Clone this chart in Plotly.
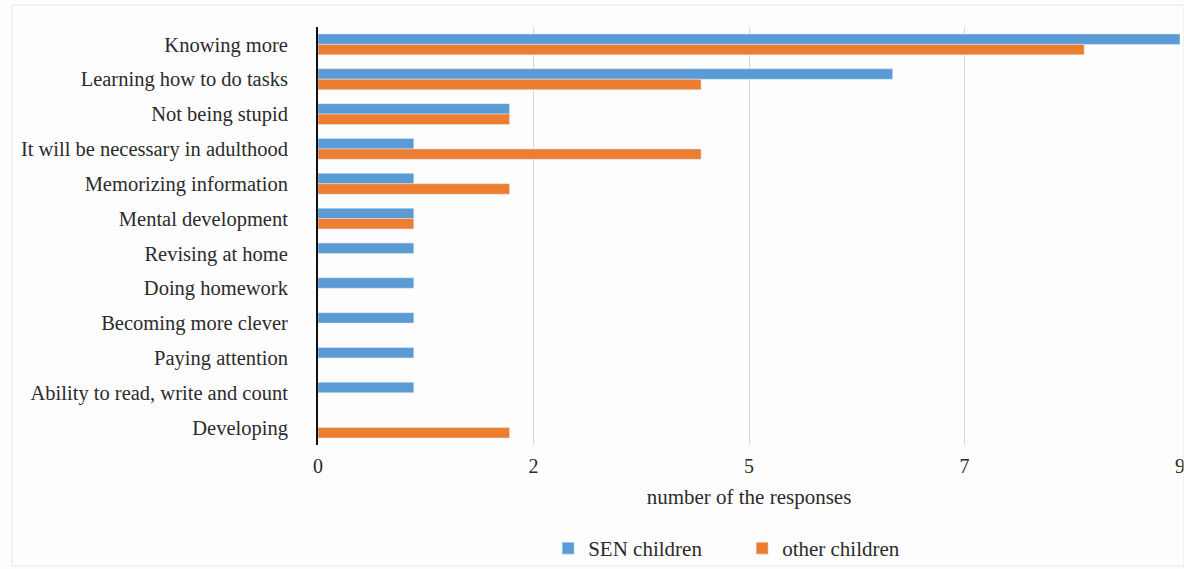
import plotly.graph_objects as go

# Reasons given for why learning matters
categories = [
    "Knowing more",
    "Learning how to do tasks",
    "Not being stupid",
    "It will be necessary in adulthood",
    "Memorizing information",
    "Mental development",
    "Revising at home",
    "Doing homework",
    "Becoming more clever",
    "Paying attention",
    "Ability to read, write and count",
    "Developing",
]
sen_children = [9, 6, 2, 1, 1, 1, 1, 1, 1, 1, 1, 0]
other_children = [8, 4, 2, 4, 2, 1, 0, 0, 0, 0, 0, 2]

tick_values = [0, 2.25, 4.5, 6.75, 9]
tick_labels = ["0", "2", "5", "7", "9"]

BLUE = "#5b9bd5"
ORANGE = "#ed7d31"
FONT = "Liberation Serif, Times New Roman, serif"
TEXT = "#2b2b2b"

fig = go.Figure()
fig.add_trace(go.Bar(y=categories, x=sen_children, orientation="h",
                     name="SEN children", marker_color=BLUE))
fig.add_trace(go.Bar(y=categories, x=other_children, orientation="h",
                     name="other children", marker_color=ORANGE))

fig.update_layout(
    width=1184, height=569,
    margin=dict(l=318, r=4, t=27, b=124),
    paper_bgcolor="#fdfdfd", plot_bgcolor="#fdfdfd",
    barmode="group", bargap=0.4, bargroupgap=0.0,
    font=dict(family=FONT, size=20, color=TEXT),
    showlegend=True,
    legend=dict(orientation="h", x=0.267, xanchor="left",
                yref="container", y=0.0, yanchor="bottom",
                font=dict(family=FONT, size=21, color=TEXT),
                bgcolor="rgba(0,0,0,0)", traceorder="normal", entrywidth=149),
    xaxis=dict(range=[0, 9], tickvals=tick_values, ticktext=tick_labels,
               showgrid=True, gridcolor="#d9d9d9", gridwidth=1,
               zeroline=False, showline=False, ticks="",
               ticklabelstandoff=7, ticklabeloverflow="allow", automargin=False,
               tickfont=dict(family=FONT, size=20, color=TEXT),
               title=dict(text="number of the responses", standoff=13,
                          font=dict(family=FONT, size=21, color=TEXT))),
    yaxis=dict(autorange="reversed", showline=True, linecolor="#111111",
               linewidth=2, ticks="", showgrid=False, zeroline=False,
               ticklabelstandoff=24,
               tickfont=dict(family=FONT, size=20.5, color=TEXT)),
)

# faint frame around the figure
fig.add_shape(type="rect", xref="paper", yref="paper",
              x0=-306 / 862, x1=1.0 + 4 / 862, y0=-121 / 418, y1=1.0 + 22 / 418,
              line=dict(color="#e6e6e6", width=1), fillcolor="rgba(0,0,0,0)")

fig.write_html("out.html")
